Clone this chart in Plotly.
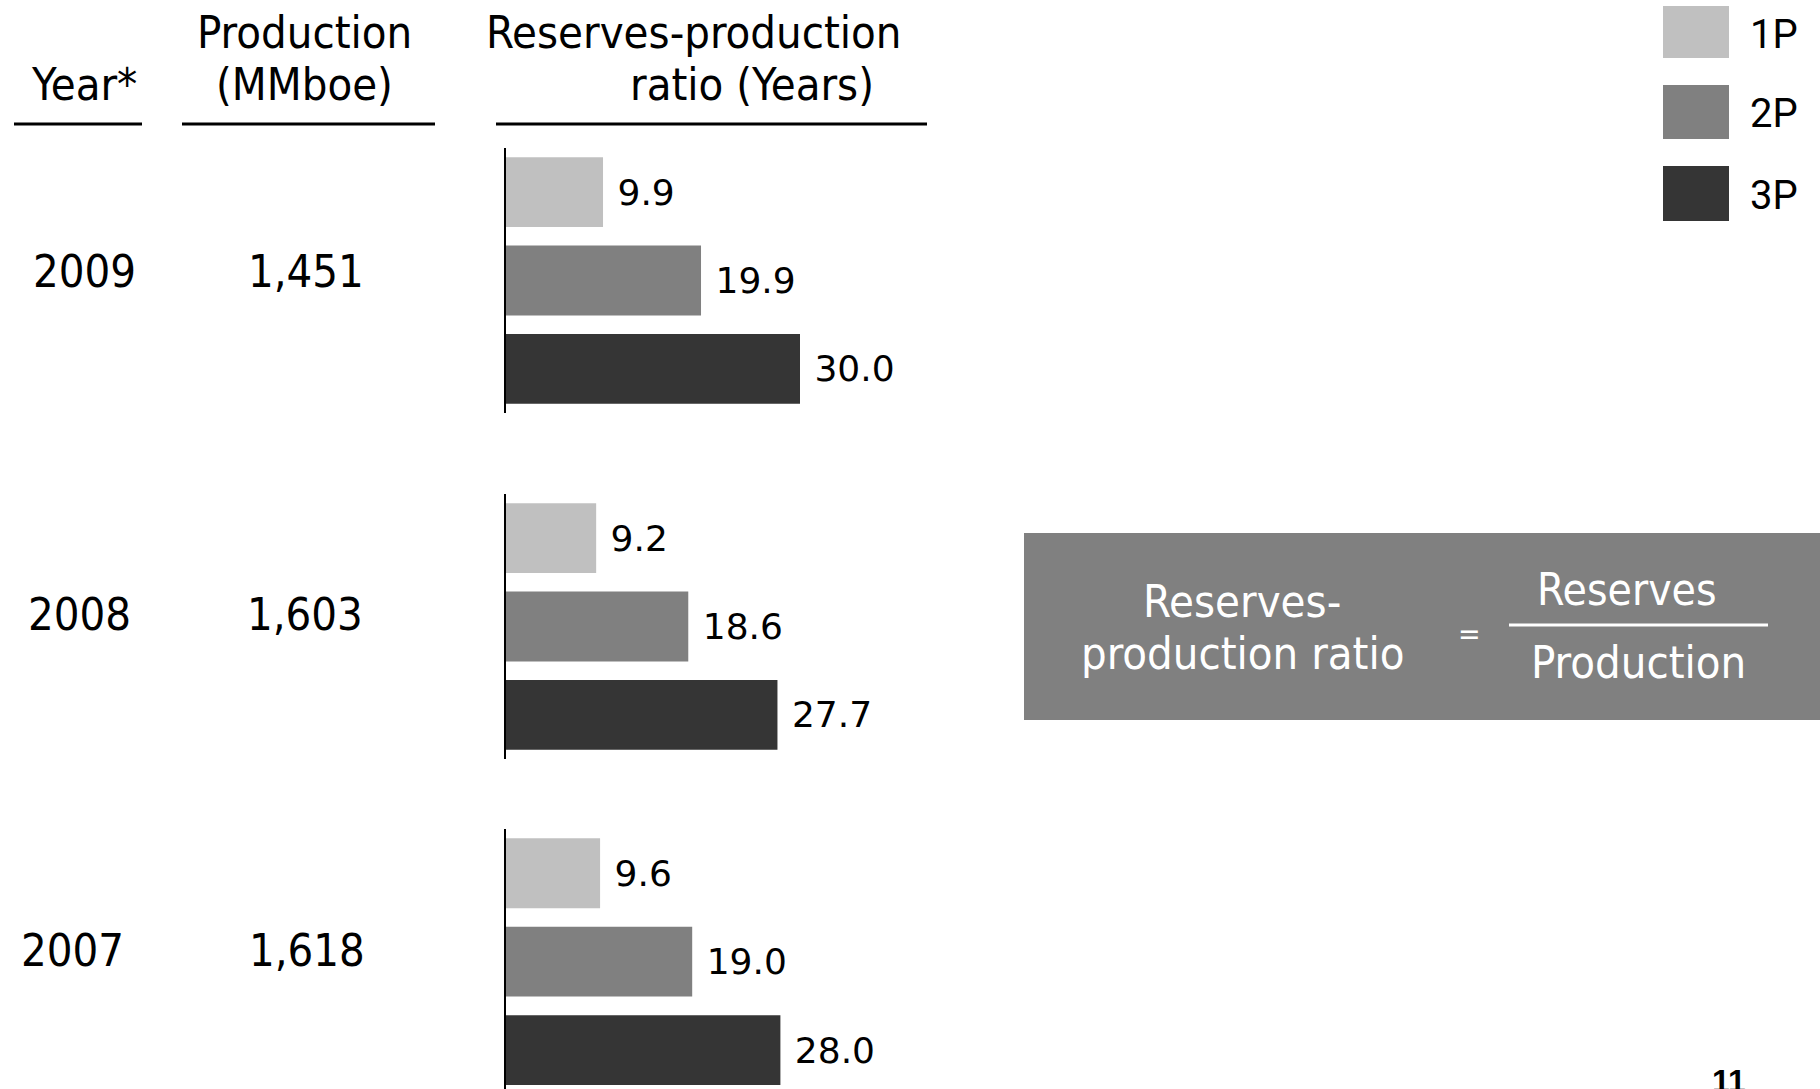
import plotly.graph_objects as go

W, H = 1820, 1089

# ---- data ----
years = ["2009", "2008", "2007"]
production = ["1,451", "1,603", "1,618"]
reserve_types = ["1P", "2P", "3P"]
ratio_1p = [9.9, 9.2, 9.6]
ratio_2p = [19.9, 18.6, 19.0]
ratio_3p = [30.0, 27.7, 28.0]
type_colors = ["#c0c0c0", "#808080", "#353535"]

COND = "DejaVu Sans Condensed, Liberation Sans Narrow, DejaVu Sans, sans-serif"
VAL = "DejaVu Sans, Verdana, sans-serif"


def px(x):
    return x / W


def py(y):
    return 1 - y / H


fig = go.Figure()

# group layout (pixel top/bottom of each axis line) and y-ranges
group_pix = [(148, 413), (494, 759), (829, 1089)]
group_ranges = [[-0.5, 2.5], [-0.5, 2.5], [-0.44, 2.5]]
x_left, x_right = 506, 1000
px_per_unit = 9.8

for i, yr in enumerate(years):
    n = "" if i == 0 else str(i + 1)
    vals = [ratio_1p[i], ratio_2p[i], ratio_3p[i]]
    fig.add_trace(go.Bar(
        x=vals,
        y=[2, 1, 0],
        orientation="h",
        width=0.79,
        marker=dict(color=type_colors, line=dict(width=0)),
        text=[" %.1f" % v for v in vals],
        textposition="outside",
        textfont=dict(family=VAL, size=36, color="#000000"),
        cliponaxis=False,
        xaxis="x" + n,
        yaxis="y" + n,
        showlegend=False,
        hoverinfo="skip",
    ))
    top, bot = group_pix[i]
    fig.layout["xaxis" + n] = dict(
        domain=[px(x_left), px(x_right)],
        range=[0, (x_right - x_left) / px_per_unit],
        visible=False, anchor="y" + n, fixedrange=True,
    )
    fig.layout["yaxis" + n] = dict(
        domain=[py(bot), py(top)],
        range=group_ranges[i],
        showline=True, linecolor="#000000", linewidth=2,
        showticklabels=False, showgrid=False, zeroline=False, ticks="",
        anchor="x" + n, fixedrange=True,
    )

annotations = []
shapes = []


def add_text(x, y, text, size, family=COND, color="#000000", xanchor="center", yanchor="middle"):
    annotations.append(dict(
        x=px(x), y=py(y), xref="paper", yref="paper", text=text, showarrow=False,
        xanchor=xanchor, yanchor=yanchor,
        font=dict(family=family, size=size, color=color),
    ))


# headers
add_text(84, 84, "Year*", 45)
add_text(304, 33, "Production", 45)
add_text(304, 84, "(MMboe)", 45)
add_text(694, 33, "Reserves-production", 45)
add_text(752, 84, "ratio (Years)", 45)

for x0, x1 in [(14, 142), (182, 435), (496, 927)]:
    shapes.append(dict(type="line", xref="paper", yref="paper",
                       x0=px(x0), x1=px(x1), y0=py(124), y1=py(124),
                       line=dict(color="#000000", width=3)))

# year and production labels
year_pos = [(84, 272), (79, 614), (72, 950)]
prod_pos = [(306, 272), (305, 614), (307, 950)]
for i in range(len(years)):
    add_text(year_pos[i][0], year_pos[i][1], years[i], 45)
    add_text(prod_pos[i][0], prod_pos[i][1], production[i], 45)

# legend
legend_boxes = [(6, 58), (85, 139), (166, 221)]
legend_text_y = [35, 113, 195]
for j, t in enumerate(reserve_types):
    y0, y1 = legend_boxes[j]
    shapes.append(dict(type="rect", xref="paper", yref="paper",
                       x0=px(1663), x1=px(1729), y0=py(y1), y1=py(y0),
                       fillcolor=type_colors[j], line=dict(width=0)))
    add_text(1748, legend_text_y[j], t, 40, family="Roboto, sans-serif", xanchor="left")

# formula box
shapes.append(dict(type="rect", xref="paper", yref="paper",
                   x0=px(1024), x1=px(1820), y0=py(720), y1=py(533),
                   fillcolor="#808080", line=dict(width=0), layer="below"))
add_text(1242, 601, "Reserves-", 45, color="#ffffff")
add_text(1242, 653, "production ratio", 45, color="#ffffff")
add_text(1469, 633, "=", 30, color="#ffffff")
add_text(1627, 589, "Reserves", 44, color="#ffffff")
add_text(1638, 662, "Production", 45, color="#ffffff")
shapes.append(dict(type="line", xref="paper", yref="paper",
                   x0=px(1509), x1=px(1768), y0=py(625), y1=py(625),
                   line=dict(color="#ffffff", width=3)))

# page number
add_text(1729, 1061, "<b>11</b>", 32, family="Liberation Sans, Arial, sans-serif", yanchor="top")

fig.update_layout(
    width=W, height=H, autosize=False,
    margin=dict(l=0, r=0, t=0, b=0, pad=0),
    paper_bgcolor="#ffffff", plot_bgcolor="rgba(0,0,0,0)",
    annotations=annotations, shapes=shapes,
    barmode="overlay", showlegend=False,
)

fig.write_html(
    "out.html",
    config={"displayModeBar": False},
    post_script="document.body.style.margin='0';document.body.style.overflow='hidden';",
)
